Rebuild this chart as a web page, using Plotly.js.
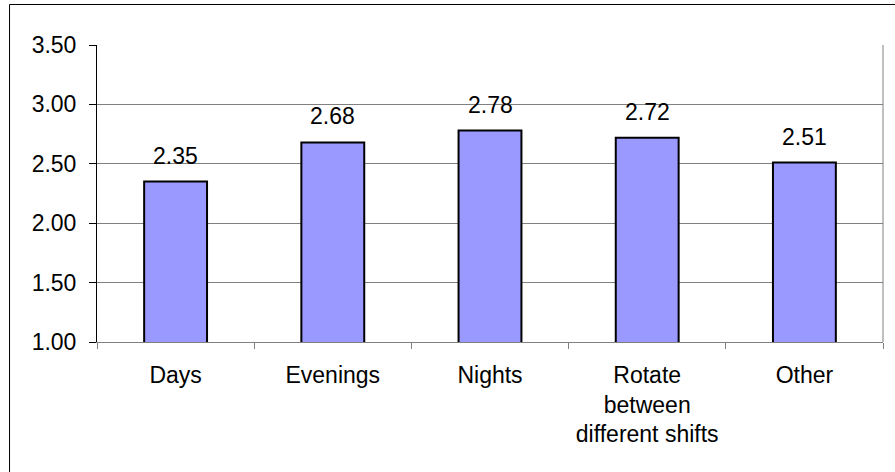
<!DOCTYPE html>
<html>
<head>
<meta charset="utf-8">
<script src="https://cdn.plot.ly/plotly-3.0.1.min.js"></script>
<style>
  html, body { margin: 0; padding: 0; background: #ffffff; }
  #chart { width: 895px; height: 472px; }
</style>
</head>
<body>
<div id="chart"></div>
<script>
const categories = ["Days", "Evenings", "Nights", "Rotate<br>between<br>different shifts", "Other"];
const values = [2.35, 2.68, 2.78, 2.72, 2.51];
const valueLabels = ["2.35", "2.68", "2.78", "2.72", "2.51"];
const yTickVals = [1.0, 1.5, 2.0, 2.5, 3.0, 3.5];
const yTickText = ["1.00", "1.50", "2.00", "2.50", "3.00", "3.50"];

const FONT = "Liberation Sans, Arial, sans-serif";
const FS = 23;

const trace = {
  type: "bar",
  x: categories,
  y: values,
  width: 0.4,
  marker: { color: "#9999FF", line: { color: "#000000", width: 2 } },
  hoverinfo: "none",
  showlegend: false
};

const annotations = categories.map((c, i) => ({
  x: c,
  y: values[i],
  xref: "x",
  yref: "y",
  text: valueLabels[i],
  showarrow: false,
  yanchor: "bottom",
  yshift: 11,
  font: { family: FONT, size: FS, color: "#000000" }
}));

const layout = {
  width: 895,
  height: 472,
  margin: { l: 97, r: 12, t: 45, b: 130, pad: 0 },
  paper_bgcolor: "#ffffff",
  plot_bgcolor: "#ffffff",
  font: { family: FONT, size: FS, color: "#000000" },
  bargap: 0.6,
  xaxis: {
    type: "category",
    showgrid: false,
    showline: true,
    linecolor: "#808080",
    linewidth: 1,
    ticks: "outside",
    tickson: "boundaries",
    ticklen: 6,
    tickcolor: "#808080",
    tickfont: { family: FONT, size: FS, color: "#000000" },
    ticklabelstandoff: 12,
    zeroline: false,
    fixedrange: true
  },
  yaxis: {
    range: [1, 3.5],
    tickvals: yTickVals,
    ticktext: yTickText,
    showgrid: true,
    gridcolor: "#808080",
    gridwidth: 1,
    showline: true,
    linecolor: "#000000",
    linewidth: 1,
    ticks: "outside",
    ticklen: 7,
    tickcolor: "#000000",
    tickfont: { family: FONT, size: FS, color: "#000000" },
    ticklabelstandoff: 8,
    zeroline: false,
    fixedrange: true
  },
  annotations: annotations,
  shapes: [
    {
      type: "line", xref: "paper", yref: "paper",
      x0: 1, x1: 1, y0: 0, y1: 1,
      line: { color: "#808080", width: 1 }
    },
    {
      type: "rect", xref: "paper", yref: "paper",
      x0: -0.1113, x1: 1.2, y0: -0.6, y1: 1.1364,
      line: { color: "#000000", width: 1 },
      fillcolor: "rgba(0,0,0,0)"
    }
  ]
};

Plotly.newPlot("chart", [trace], layout, { displayModeBar: false, staticPlot: true });
</script>
</body>
</html>
